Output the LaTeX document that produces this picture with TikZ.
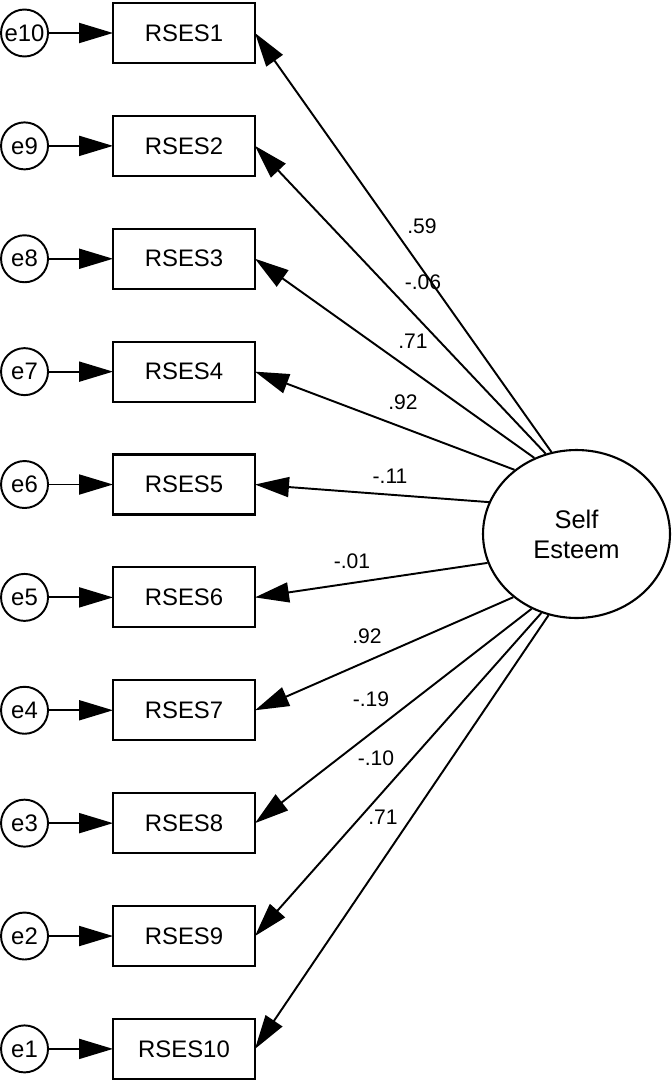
\documentclass[tikz,border=0pt]{standalone}
\usepackage{fontspec}
\setmainfont{Liberation Sans}
\usetikzlibrary{shapes,arrows,arrows.meta,positioning,calc}

\begin{document}
\begin{tikzpicture}[
    x=0.02cm, y=-0.02cm,
    node distance=1.058cm,
    item/.style={rectangle, draw, line width=1.2pt, minimum width=2.84cm, minimum height=1.2cm, inner sep=0pt, outer sep=0pt, font=\fontsize{13.6}{16}\selectfont},
    err/.style={circle, draw, line width=1.1pt, minimum size=0.94cm, inner sep=0pt, outer sep=0pt, font=\fontsize{13.6}{16}\selectfont},
    latent/.style={ellipse, draw, line width=1.2pt, minimum width=3.74cm, minimum height=3.36cm, inner sep=0pt, align=center, font=\fontsize{14.5}{17}\selectfont},
    arrow/.style={-{Triangle[length=0.68cm,width=0.4cm]}, line width=1.1pt},
    coef/.style={inner sep=0pt, font=\fontsize{12}{14}\selectfont}
]
    \useasboundingbox (0,0) rectangle (672,1082);

    % observed items
    \node[item] (rses1) at (184,33) {RSES1};
    \node[item, below=of rses1] (rses2) {RSES2};
    \node[item, below=of rses2] (rses3) {RSES3};
    \node[item, below=of rses3] (rses4) {RSES4};
    \node[item, below=of rses4] (rses5) {RSES5};
    \node[item, below=of rses5] (rses6) {RSES6};
    \node[item, below=of rses6] (rses7) {RSES7};
    \node[item, below=of rses7] (rses8) {RSES8};
    \node[item, below=of rses8] (rses9) {RSES9};
    \node[item, below=of rses9] (rses10) {RSES10};

    % error terms
    \node[err, left=1.3cm of rses1] (e10) {e10};
    \node[err, left=1.3cm of rses2] (e9) {e9};
    \node[err, left=1.3cm of rses3] (e8) {e8};
    \node[err, left=1.3cm of rses4] (e7) {e7};
    \node[err, left=1.3cm of rses5] (e6) {e6};
    \node[err, left=1.3cm of rses6] (e5) {e5};
    \node[err, left=1.3cm of rses7] (e4) {e4};
    \node[err, left=1.3cm of rses8] (e3) {e3};
    \node[err, left=1.3cm of rses9] (e2) {e2};
    \node[err, left=1.3cm of rses10] (e1) {e1};

    % latent factor
    \node[latent] (esteem) at (576.5,534) {Self\\Esteem};

    \draw[arrow] (e10) -- (rses1);
    \draw[arrow] (e9) -- (rses2);
    \draw[arrow] (e8) -- (rses3);
    \draw[arrow] (e7) -- (rses4);
    \draw[arrow] (e6) -- (rses5);
    \draw[arrow] (e5) -- (rses6);
    \draw[arrow] (e4) -- (rses7);
    \draw[arrow] (e3) -- (rses8);
    \draw[arrow] (e2) -- (rses9);
    \draw[arrow] (e1) -- (rses10);

    \draw[arrow] (esteem.107.9) -- (rses1.east);
    \draw[arrow] (esteem.111.9) -- (rses2.east);
    \draw[arrow] (esteem.119.8) -- (rses3.east);
    \draw[arrow] (esteem.134.3) -- (rses4.east);
    \draw[arrow] (esteem.160.9) -- (rses5.east);
    \draw[arrow] (esteem.198) -- (rses6.east);
    \draw[arrow] (esteem.225.2) -- (rses7.east);
    \draw[arrow] (esteem.239.6) -- (rses8.east);
    \draw[arrow] (esteem.246.4) -- (rses9.east);
    \draw[arrow] (esteem.251.9) -- (rses10.east);

    % loadings
    \node[coef] (w1) at (422,226) {.59};
    \node[coef] (w2) at (423,282) {-.06};
    \node[coef] (w3) at (413,341) {.71};
    \node[coef] (w4) at (403,402) {.92};
    \node[coef] (w5) at (390,476) {-.11};
    \node[coef] (w6) at (352,561) {-.01};
    \node[coef] (w7) at (367,636) {.92};
    \node[coef] (w8) at (371,699) {-.19};
    \node[coef] (w9) at (376,758) {-.10};
    \node[coef] (w10) at (383,817) {.71};
\end{tikzpicture}
\end{document}
